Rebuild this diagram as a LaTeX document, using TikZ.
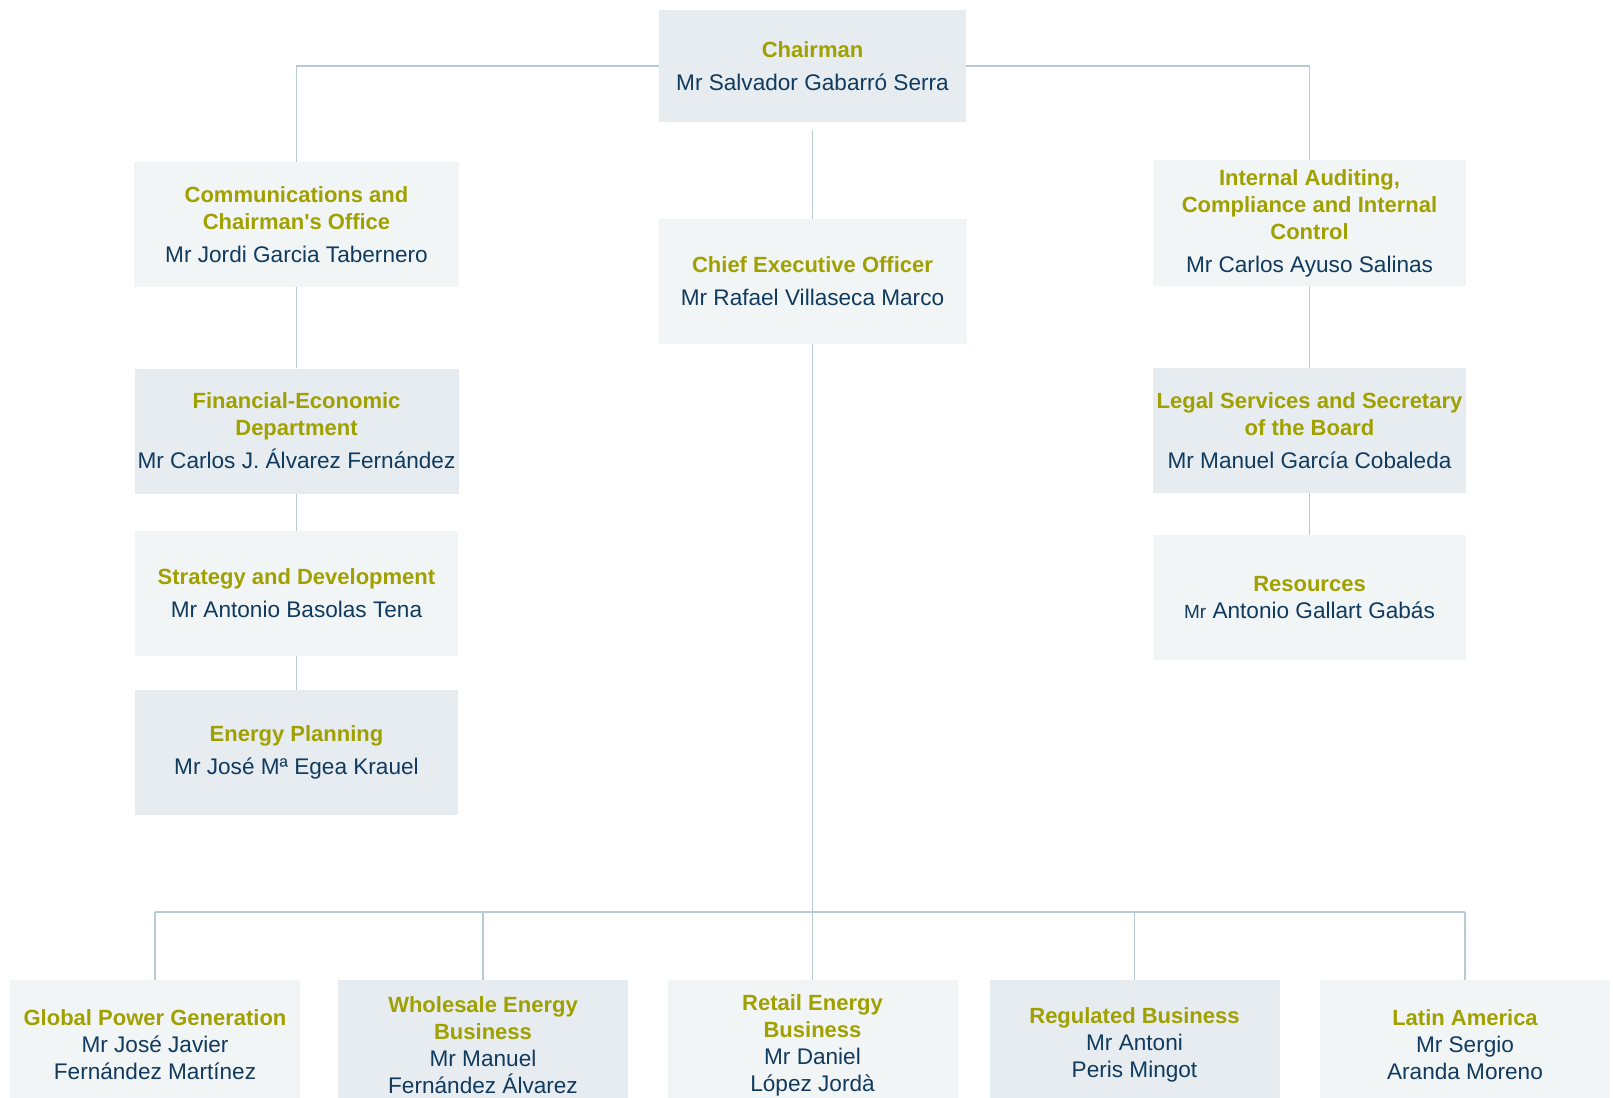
\documentclass[tikz,border=0pt]{standalone}
\usepackage{fontspec}
\setmainfont{Liberation Sans}
\usetikzlibrary{positioning}

\definecolor{olivetxt}{RGB}{160,161,0}
\definecolor{navytxt}{RGB}{16,58,94}
\definecolor{boxlight}{RGB}{241,245,246}
\definecolor{boxdark}{RGB}{230,236,239}
\definecolor{linkgrey}{RGB}{184,203,213}
\newcommand{\ttl}[1]{{\color{olivetxt}\bfseries\fontsize{11}{13.5}\selectfont #1}}

\begin{document}
\begin{tikzpicture}[x=0.5pt,y=-0.5pt,on grid,
	unit/.style={rectangle,inner sep=0pt,align=center,text=navytxt,
		font=\fontsize{11.3}{13.5}\selectfont,minimum height=62.5pt},
	pale/.style={unit,fill=boxlight},
	shaded/.style={unit,fill=boxdark},
	low/.style={minimum width=145pt,minimum height=65pt},
	link/.style={draw=linkgrey,line width=0.9pt}]

	\useasboundingbox (0,0) rectangle (1613,1098);

	% top
	\node[shaded,minimum width=153.5pt,minimum height=56pt] (chair) at (812.5,66) {\ttl{Chairman}\\[3pt]Mr Salvador Gabarró Serra};
	\node[pale,minimum width=154pt] (ceo) [below=107.75pt of chair] {\ttl{Chief Executive Officer}\\[3pt]Mr Rafael Villaseca Marco};

	% left column
	\node[pale,minimum width=162.5pt] (comms) at (296.5,224.5) {\ttl{Communications and}\\\ttl{Chairman\textquotesingle s Office}\\[3pt]Mr Jordi Garcia Tabernero};
	\node[shaded,minimum width=162pt] (fin) [below=103.25pt of comms] {\ttl{Financial-Economic}\\\ttl{Department}\\[3pt]Mr Carlos J. Álvarez Fernández};
	\node[pale,minimum width=161.5pt] (strat) [below=81.25pt of fin] {\ttl{Strategy and Development}\\[3pt]Mr Antonio Basolas Tena};
	\node[shaded,minimum width=161.5pt] (plan) [below=79.5pt of strat] {\ttl{Energy Planning}\\[3pt]Mr José Mª Egea Krauel};

	% right column
	\node[pale,minimum width=156.5pt,minimum height=63pt] (audit) at (1309.5,223) {\ttl{Internal Auditing,}\\\ttl{Compliance and Internal}\\\ttl{Control}\\[3pt]Mr Carlos Ayuso Salinas};
	\node[shaded,minimum width=156.5pt] (legal) [below=103.75pt of audit] {\ttl{Legal Services and Secretary}\\\ttl{of the Board}\\[3pt]Mr Manuel García Cobaleda};
	\node[pale,minimum width=156.5pt] (res) [below=83.5pt of legal] {\ttl{Resources}\\{\fontsize{9.5}{13.5}\selectfont Mr} Antonio Gallart Gabás};

	% bottom row
	\node[pale,low] (retail) at (812.5,1045) {\ttl{Retail Energy}\\\ttl{Business}\\Mr Daniel\\López Jordà};
	\node[shaded,low] (whole) [left=164.75pt of retail] {\ttl{Wholesale Energy}\\\ttl{Business}\\Mr Manuel\\Fernández Álvarez};
	\node[pale,low] (gen) [left=164pt of whole] {\ttl{Global Power Generation}\\Mr José Javier\\Fernández Martínez};
	\node[shaded,low] (reg) [right=161pt of retail] {\ttl{Regulated Business}\\Mr Antoni\\Peris Mingot};
	\node[pale,low] (latam) [right=165.25pt of reg] {\ttl{Latin America}\\Mr Sergio\\Aranda Moreno};
	\coordinate (bus) at (812.5,912);

	\draw[link] (chair.west) -| (comms.north);
	\draw[link] (chair.east) -| (audit.north);
	\draw[link] ([yshift=-4pt]chair.south) -- (ceo.north);
	\draw[link] (comms.south) -- (fin.north);
	\draw[link] (fin.south) -- (strat.north);
	\draw[link] (strat.south) -- (plan.north);
	\draw[link] (audit.south) -- (legal.north);
	\draw[link] (legal.south) -- (res.north);
	\draw[link] (ceo.south) -- (retail.north);
	\draw[link,line width=1.3pt] (gen.north |- bus) -- (latam.north |- bus);
	\foreach \b in {gen,whole,reg,latam}
		\draw[link] (\b.north) -- (\b.north |- bus);

\end{tikzpicture}
\end{document}
